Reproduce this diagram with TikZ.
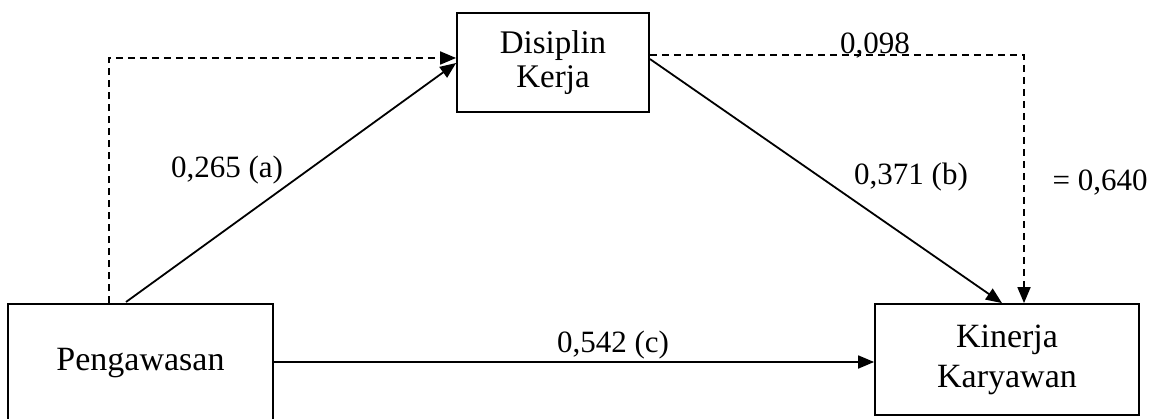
\documentclass[tikz,border=0pt]{standalone}
\usepackage{fontspec}
\setmainfont{Liberation Serif}
\usetikzlibrary{arrows.meta}
\tikzset{
  box/.style={draw, line width=1.8pt, rectangle, inner sep=0pt, align=center, font=\fontsize{34}{35}\selectfont},
  lbl/.style={inner sep=0pt, font=\fontsize{31}{35}\selectfont},
  conn/.style={line width=1.8pt, -{Triangle[length=16pt,width=13pt]}},
  dashconn/.style={conn, dash pattern=on 7pt off 5pt},
}
\begin{document}
\begin{tikzpicture}[x=1pt,y=-1pt]
  \useasboundingbox (0,0) rectangle (1155,419);
  \begin{scope}
  \clip (0,0) rectangle (1155,419);
  % variables
  \node[box, minimum width=265pt, minimum height=118pt] (peng) at (140.5,363) {Pengawasan};
  \node[box, minimum width=192pt, minimum height=99pt, font=\fontsize{33}{34}\selectfont] (disc) at (553,62.5) {Disiplin\\Kerja};
  \node[box, minimum width=264pt, minimum height=111pt, font=\fontsize{34}{40}\selectfont] (kin) at (1007,359.5) {Kinerja\\Karyawan};
  \end{scope}
  % bends and ends of the paths
  \coordinate (dl) at (109,58);
  \coordinate (da) at (126,302);
  \coordinate (db) at (1002,302);
  \coordinate (dr) at (1024,55);
  % indirect path (dashed)
  \draw[dashconn] (peng.north -| dl) -- (dl) -- (dl -| disc.west);
  \draw[dashconn] (disc.east |- dr) -- (dr) -- (dr |- kin.north);
  % direct paths
  \draw[conn] (da) -- (disc.west |- 0,63);
  \draw[conn] (disc.east |- 0,59) -- (db |- kin.north);
  \draw[conn] (peng.east |- 0,362) -- (kin.west |- 0,362);
  % coefficients
  \node[lbl] (la) at (227,170) {0,265 (a)};
  \node[lbl] (lb) at (911,177) {0,371 (b)};
  \node[lbl] (lc) at (613,345) {0,542 (c)};
  \node[lbl, anchor=base] (ld) at (875,54) {0,098};
  \node[lbl] (le) at (1100,183) {= 0,640};
\end{tikzpicture}
\end{document}
